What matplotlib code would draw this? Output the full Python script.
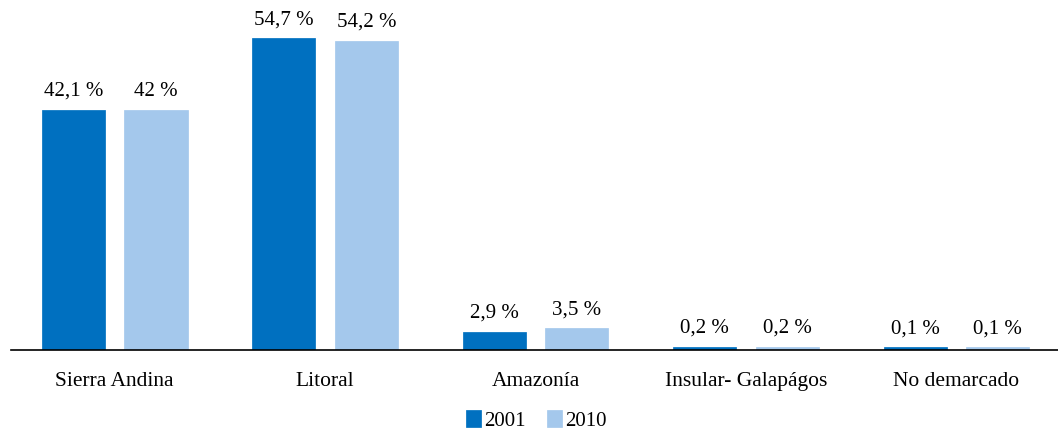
import matplotlib

matplotlib.use("Agg")
import matplotlib.pyplot as plt
import numpy as np

categories = ["Sierra Andina", "Litoral", "Amazonía", "Insular- Galapágos", "No demarcado"]
values_2001 = [42.1, 54.7, 2.9, 0.2, 0.1]
values_2010 = [42.0, 54.2, 3.5, 0.2, 0.1]
labels_2001 = ["42,1 %", "54,7 %", "2,9 %", "0,2 %", "0,1 %"]
labels_2010 = ["42 %", "54,2 %", "3,5 %", "0,2 %", "0,1 %"]

DARK = "#0070c0"
LIGHT = "#a4c8ec"

plt.rcParams["font.family"] = ["Liberation Serif", "DejaVu Serif"]

fig = plt.figure(figsize=(10.58, 4.33), dpi=100)
ax = fig.add_axes([11 / 1058, 83 / 433, 1047 / 1058, 350 / 433])

x = np.arange(len(categories))
w = 0.282
off = 0.196
# edge of the same colour keeps the tiny shares (0,1 %) visible, as in the original
b1 = ax.bar(x - off, values_2001, w, color=DARK, edgecolor=DARK, linewidth=3.4, label="2001")
b2 = ax.bar(x + off, values_2010, w, color=LIGHT, edgecolor=LIGHT, linewidth=3.4, label="2010")

for bars, labs in ((b1, labels_2001), (b2, labels_2010)):
    for rect, lab in zip(bars, labs):
        ax.annotate(lab, (rect.get_x() + rect.get_width() / 2, rect.get_height()),
                    xytext=(0, 8), textcoords="offset points",
                    ha="center", va="bottom", fontsize=15)

ax.set_xlim(-0.492, 4.482)
ax.set_ylim(0, 61.8)
for s in ("top", "right", "left"):
    ax.spines[s].set_visible(False)
ax.spines["bottom"].set_linewidth(1.2)
ax.set_yticks([])
ax.set_xticks(x)
ax.set_xticklabels(categories, fontsize=15.5)
ax.tick_params(axis="x", length=0, pad=16)

fig.legend(loc="center", bbox_to_anchor=(0.508, 0.027), ncol=2, frameon=False,
           fontsize=15, handlelength=0.55, handleheight=0.55, handletextpad=0.25,
           columnspacing=1.1)

fig.savefig("out.png", dpi=100)
